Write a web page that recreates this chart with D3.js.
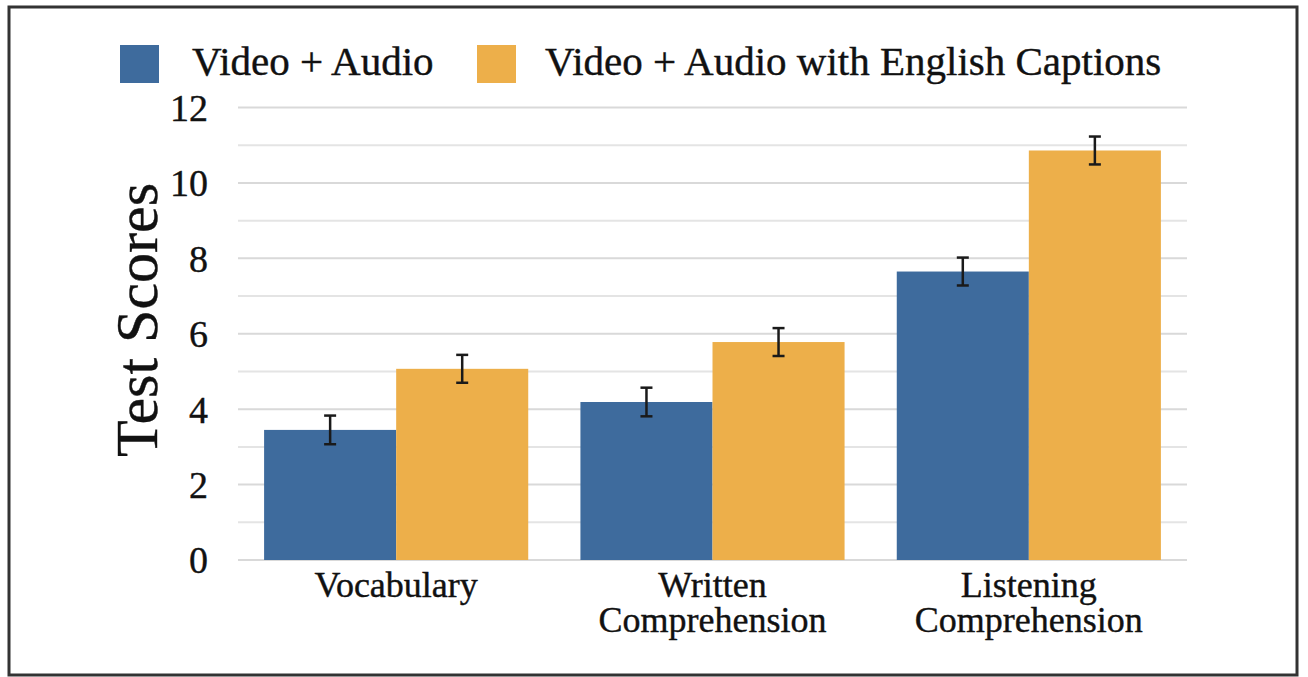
<!DOCTYPE html>
<meta charset="utf-8">
<title>Test Scores</title>
<style>
body { margin: 0; background: #fff; }
svg text { font-family: "Liberation Serif", "Times New Roman", serif; fill: #111; stroke: #111; stroke-width: 0.4px; }
.grid line { stroke: #d9d9d9; stroke-width: 2; }
.grid .minor { stroke: #e4e4e4; }
.yaxis text { font-size: 38px; }
.xaxis text { font-size: 36px; }
</style>
<body>
<script src="https://cdn.jsdelivr.net/npm/d3@7"></script>
<script>

var categories = ["Vocabulary", "Written\nComprehension", "Listening\nComprehension"];
var seriesNames = ["Video + Audio", "Video + Audio with English Captions"];
var audioVals = [3.45, 4.19, 7.65];
var audioErr = [0.38, 0.38, 0.37];
var captionVals = [5.07, 5.78, 10.86];
var captionErr = [0.37, 0.37, 0.37];
var yTicks = [0, 1, 2, 3, 4, 5, 6, 7, 8, 9, 10, 11, 12];

var colors = ["#3e6b9d", "#edaf4a"];

var width = 1308, height = 677;
var plotLeft = 238, plotRight = 1187, plotTop = 107.5, plotBottom = 560;

var svg = d3.select("body").append("svg")
    .attr("width", width)
    .attr("height", height);

// frame
svg.append("rect")
    .attr("x", 9).attr("y", 7)
    .attr("width", 1288).attr("height", 668)
    .attr("fill", "none")
    .attr("stroke", "#333")
    .attr("stroke-width", 3);

var y = d3.scaleLinear().domain([0, 12]).range([plotBottom, plotTop]);
var x0 = d3.scaleBand().domain(categories).range([plotLeft, plotRight]).paddingInner(0.165).paddingOuter(0.0825);
var x1 = d3.scaleBand().domain([0, 1]).range([0, x0.bandwidth()]);

// gridlines
svg.append("g").attr("class", "grid")
  .selectAll("line")
  .data(yTicks)
  .enter().append("line")
    .attr("class", function(d) { return d % 2 ? "minor" : "major"; })
    .attr("x1", plotLeft).attr("x2", plotRight)
    .attr("y1", function(d) { return y(d); })
    .attr("y2", function(d) { return y(d); });

// y axis labels
var yAxis = svg.append("g")
    .attr("class", "yaxis")
    .attr("transform", "translate(" + plotLeft + ",0)")
    .call(d3.axisLeft(y).tickValues(yTicks.filter(function(d) { return d % 2 == 0; }))
      .tickSize(0).tickPadding(30).tickFormat(d3.format("d")));
yAxis.select(".domain").remove();
yAxis.selectAll("text").attr("dy", "0.34em");

svg.append("text")
    .attr("transform", "translate(157,320) rotate(-90)")
    .attr("text-anchor", "middle")
    .style("font-size", "60px")
    .text("Test Scores");

// bars
var rows = categories.map(function(c, i) {
  return [
    {cat: c, s: 0, v: audioVals[i], e: audioErr[i]},
    {cat: c, s: 1, v: captionVals[i], e: captionErr[i]}
  ];
});

var groups = svg.append("g").selectAll("g")
  .data(rows)
  .enter().append("g")
    .attr("transform", function(d) { return "translate(" + x0(d[0].cat) + ",0)"; });

groups.selectAll("rect")
  .data(function(d) { return d; })
  .enter().append("rect")
    .attr("x", function(d) { return x1(d.s); })
    .attr("width", x1.bandwidth())
    .attr("y", function(d) { return y(d.v); })
    .attr("height", function(d) { return y(0) - y(d.v); })
    .attr("fill", function(d) { return colors[d.s]; });

// error bars
var eb = groups.selectAll("g.err")
  .data(function(d) { return d; })
  .enter().append("g")
    .attr("class", "err")
    .attr("stroke", "#1a1a1a")
    .attr("stroke-width", 2.5);
var cx = function(d) { return x1(d.s) + x1.bandwidth() / 2; };
eb.append("line")
    .attr("x1", cx).attr("x2", cx)
    .attr("y1", function(d) { return y(d.v + d.e); })
    .attr("y2", function(d) { return y(d.v - d.e); });
eb.append("line")
    .attr("x1", function(d) { return cx(d) - 6; }).attr("x2", function(d) { return cx(d) + 6; })
    .attr("y1", function(d) { return y(d.v + d.e); })
    .attr("y2", function(d) { return y(d.v + d.e); });
eb.append("line")
    .attr("x1", function(d) { return cx(d) - 6; }).attr("x2", function(d) { return cx(d) + 6; })
    .attr("y1", function(d) { return y(d.v - d.e); })
    .attr("y2", function(d) { return y(d.v - d.e); });

// x axis labels
var xAxis = svg.append("g")
    .attr("class", "xaxis")
    .attr("transform", "translate(0," + plotBottom + ")")
    .call(d3.axisBottom(x0).tickSize(0).tickFormat(""));
xAxis.select(".domain").remove();
xAxis.selectAll(".tick").append("text")
    .attr("text-anchor", "middle")
    .selectAll("tspan")
    .data(function(d) { return d.split("\n"); })
    .enter().append("tspan")
      .attr("x", 0)
      .attr("y", function(d, i) { return 37 + i * 35; })
      .text(function(d) { return d; });

// legend
var legendX = [120, 477];
var lg = svg.append("g").selectAll("g")
  .data(seriesNames)
  .enter().append("g")
    .attr("transform", function(d, i) { return "translate(" + legendX[i] + ",45)"; });
lg.append("rect")
    .attr("width", 39).attr("height", 38)
    .attr("fill", function(d, i) { return colors[i]; });
lg.append("text")
    .attr("x", function(d, i) { return i == 0 ? 72 : 68; })
    .attr("y", 30)
    .style("font-size", "41px")
    .text(function(d) { return d; });

</script>
</body>
